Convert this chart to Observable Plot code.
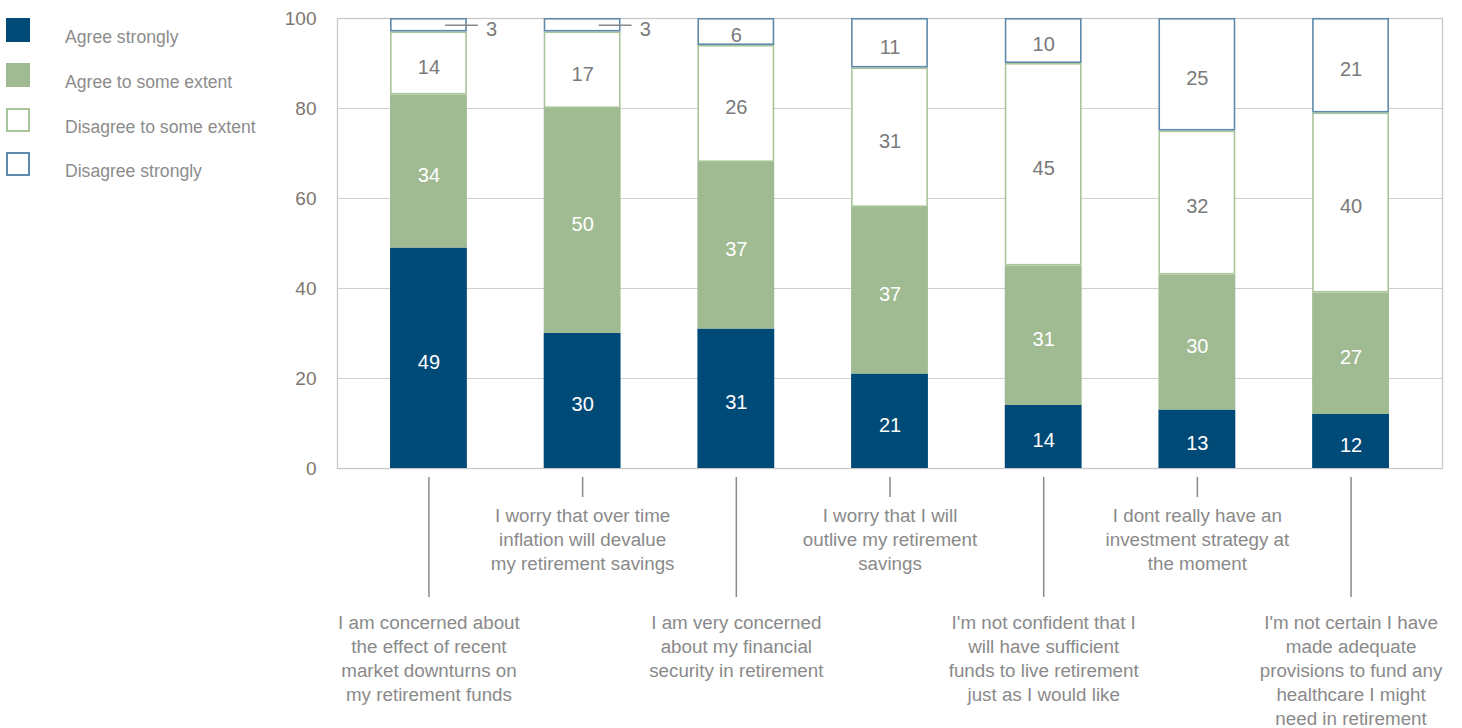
<!DOCTYPE html>
<html>
<head>
<meta charset="utf-8">
<script src="https://cdn.jsdelivr.net/npm/d3@7"></script>
<script src="https://cdn.jsdelivr.net/npm/@observablehq/plot@0.6"></script>
<style>
  html, body { margin: 0; padding: 0; background: #fff; }
  #wrap { position: relative; width: 1462px; height: 728px; font-family: "Liberation Sans", Arial, sans-serif; }
  #legend { position: absolute; left: 0; top: 0; }
  .item { position: absolute; left: 0; width: 300px; height: 30px; }
  .sw { position: absolute; left: 6px; top: 0; width: 24px; height: 24px; box-sizing: border-box; }
  .lab { position: absolute; left: 65px; top: 9px; font-size: 17.6px; color: #8c8c8c; white-space: nowrap; line-height: 20px; }
</style>
</head>
<body>
<div id="wrap"><div id="chart"></div><div id="legend"></div></div>
<script>
const categories = [
  "I am concerned about\nthe effect of recent\nmarket downturns on\nmy retirement funds",
  "I worry that over time\ninflation will devalue\nmy retirement savings",
  "I am very concerned\nabout my financial\nsecurity in retirement",
  "I worry that I will\noutlive my retirement\nsavings",
  "I'm not confident that I\nwill have sufficient\nfunds to live retirement\njust as I would like",
  "I dont really have an\ninvestment strategy at\nthe moment",
  "I'm not certain I have\nmade adequate\nprovisions to fund any\nhealthcare I might\nneed in retirement"
];
const seriesNames = ["Agree strongly", "Agree to some extent", "Disagree to some extent", "Disagree strongly"];
const agreeStrongly     = [49, 30, 31, 21, 14, 13, 12];
const agreeSomeExtent   = [34, 50, 37, 37, 31, 30, 27];
const disagreeSomeExtent= [14, 17, 26, 31, 45, 32, 40];
const disagreeStrongly  = [3, 3, 6, 11, 10, 25, 21];
const yTicks = [0, 20, 40, 60, 80, 100];

const seriesValues = [agreeStrongly, agreeSomeExtent, disagreeSomeExtent, disagreeStrongly];
const fills   = ["#004a78", "#a0bb92", "#ffffff", "#ffffff"];
const strokes = ["none", "none", "#a9c59c", "#5f8aab"];
const textCol = ["#ffffff", "#ffffff", "#7a7a7a", "#7a7a7a"];

const table = [];
categories.forEach((c, i) => {
  let acc = 0;
  seriesNames.forEach((s, k) => {
    const v = seriesValues[k][i];
    table.push({cat: c, series: s, k, value: v, y1: acc, y2: acc + v, mid: acc + v / 2});
    acc += v;
  });
});
const filled = table.filter(d => d.k < 2);
const outlined = table.filter(d => d.k >= 2);
const inside = table.filter(d => d.value >= 5);
const outside = table.filter(d => d.value < 5);

const longCats = categories.filter((c, i) => i % 2 === 0);
const shortCats = categories.filter((c, i) => i % 2 === 1);

const chart = Plot.plot({
  width: 1462,
  height: 728,
  marginLeft: 337,
  marginRight: 20,
  marginTop: 18,
  marginBottom: 260,
  style: {fontFamily: "Liberation Sans, Arial, sans-serif", background: "#fff"},
  x: {type: "band", domain: categories, paddingInner: 0.5, paddingOuter: 0.345, round: false, axis: null},
  y: {domain: [0, 100], axis: null},
  marks: [
    Plot.gridY(yTicks.slice(1), {stroke: "#cfcfcf", strokeOpacity: 1, strokeWidth: 1}),
    Plot.frame({stroke: "#c8c8c8", strokeWidth: 1.3}),
    Plot.axisY(yTicks, {tickSize: 0, tickPadding: 21, fontSize: 19, fill: "#7e766e", letterSpacing: 1.2}),
    Plot.barY(filled, {x: "cat", y1: "y1", y2: "y2", fill: d => fills[d.k]}),
    Plot.barY(outlined, {x: "cat", y1: "y1", y2: "y2", fill: "#fff", stroke: d => strokes[d.k], strokeWidth: 1.6, inset: 0.8}),
    Plot.text(inside, {x: "cat", y: "mid", text: d => String(d.value), dy: 4, fill: d => textCol[d.k], fontSize: 20, letterSpacing: 0.5}),
    Plot.tickY(outside, {x: "cat", y: "mid", dx: 33, insetLeft: 22, insetRight: 22, stroke: "#888", strokeWidth: 1.5}),
    Plot.text(outside, {x: "cat", y: "mid", text: d => String(d.value), dx: 57, dy: 4, textAnchor: "start", fill: "#7a7a7a", fontSize: 20}),
    Plot.axisX(longCats, {label: null, tickSize: 120, dy: 9, tickPadding: 14, fontSize: 18.8, lineHeight: 1.28, color: "#8a8a8a", strokeWidth: 1.5, textAnchor: "middle", lineAnchor: "top"}),
    Plot.axisX(shortCats, {label: null, tickSize: 20, dy: 9, tickPadding: 7, fontSize: 18.8, lineHeight: 1.28, color: "#8a8a8a", strokeWidth: 1.5, textAnchor: "middle", lineAnchor: "top"})
  ]
});
document.getElementById("chart").appendChild(chart);

const legend = document.getElementById("legend");
const legendTops = [18, 63, 108, 152];
seriesNames.forEach((s, k) => {
  const item = document.createElement("div");
  item.className = "item";
  item.style.top = legendTops[k] + "px";
  const sw = document.createElement("div");
  sw.className = "sw";
  sw.style.background = fills[k];
  if (k >= 2) sw.style.border = "2px solid " + strokes[k];
  const lab = document.createElement("div");
  lab.className = "lab";
  lab.textContent = s;
  item.appendChild(sw);
  item.appendChild(lab);
  legend.appendChild(item);
});
</script>
</body>
</html>
